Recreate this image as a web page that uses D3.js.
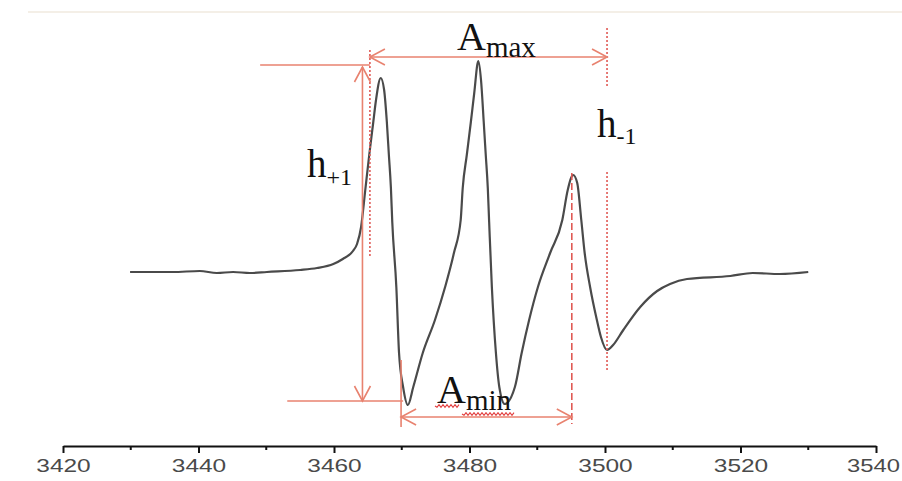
<!DOCTYPE html>
<html lang="en">

<head>
    <meta charset="UTF-8">
    <title>EPR spectrum</title>
    <style>
        body { margin: 0; background: #fff; }
        .tick text { font-family: "Liberation Sans", Arial, sans-serif; }
    </style>
</head>

<body>
    <svg id="chart"></svg>
    <script src="https://cdn.jsdelivr.net/npm/d3@7/dist/d3.min.js"></script>
    <script>
        // magnetic field (G)
        const field = [3429.9, 3436.2, 3440.2, 3442.7, 3445.1, 3447.6, 3450.1, 3455.0, 3457.5, 3459.9,
            3461.3, 3462.8, 3463.4, 3464.0, 3464.6, 3465.2, 3465.8, 3466.2, 3466.9, 3467.4,
            3467.8, 3468.1, 3468.4, 3468.6, 3469.2, 3469.6, 3470.2, 3470.9, 3471.7, 3473.1,
            3474.9, 3476.4, 3477.7, 3478.7, 3479.0, 3479.6, 3480.2, 3480.7, 3481.3, 3481.7,
            3482.1, 3482.4, 3482.7, 3482.9, 3483.3, 3483.9, 3484.4, 3485.2, 3486.7, 3487.7,
            3488.8, 3490.1, 3491.9, 3493.7, 3494.5, 3495.3, 3495.9, 3496.5, 3497.0, 3497.8,
            3498.8, 3499.4, 3500.3, 3501.2, 3502.7, 3505.2, 3507.7, 3509.6, 3512.1, 3518.5,
            3521.8, 3525.8, 3530.0];
        // signal (a.u.)
        const signal = [-1, -1, 0, -2, -1, -2, -1, 1, 3, 7,
            12, 20, 27, 44, 80, 116, 149, 171, 193, 181,
            149, 116, 83, 49, -16, -82, -116, -134, -116, -82,
            -49, -16, 18, 51, 83, 116, 149, 178, 210, 191,
            149, 116, 83, 49, -16, -82, -116, -133, -116, -82,
            -49, -16, 18, 51, 81, 96, 88, 51, 18, -16,
            -49, -66, -79, -74, -59, -36, -20, -13, -8, -5,
            -2, -3, -1];
        const tickLabels = [3420, 3440, 3460, 3480, 3500, 3520, 3540];
        const minorTicks = [3430, 3450, 3470, 3490, 3510, 3530];

        const width = 902, height = 481;
        const red = "#e8826f", redDot = "#e05a55";

        const svg = d3.select("#chart").attr("width", width).attr("height", height);

        const x = d3.scaleLinear().domain([3420, 3540]).range([63, 876]);
        const y = d3.scaleLinear().domain([-150, 230]).range([421, 41]);

        // faint frame line at the top
        svg.append("line")
            .attr("x1", 28).attr("x2", width).attr("y1", 12).attr("y2", 12)
            .attr("stroke", "#f4efe7").attr("stroke-width", 2);

        // arrow heads
        const defs = svg.append("defs");
        defs.append("marker")
            .attr("id", "head")
            .attr("viewBox", "-18 -10 20 20")
            .attr("markerUnits", "userSpaceOnUse")
            .attr("markerWidth", 20).attr("markerHeight", 20)
            .attr("refX", 0).attr("refY", 0)
            .attr("orient", "auto-start-reverse")
            .append("path")
            .attr("d", "M-15,-8 L0,0 L-15,8")
            .attr("fill", "none").attr("stroke", red).attr("stroke-width", 1.6);

        // axis
        const axisY = 446;
        const axis = svg.append("g").attr("transform", `translate(0,${axisY})`);
        axis.call(d3.axisBottom(x).tickValues(tickLabels).tickSize(7).tickSizeOuter(0).tickPadding(7).tickFormat(d3.format("d")));
        axis.select(".domain").attr("stroke", "#111").attr("stroke-width", 2);
        axis.selectAll(".tick line").attr("stroke", "#111").attr("stroke-width", 2);
        axis.selectAll(".tick text")
            .attr("fill", "#4a4a4a")
            .style("font-size", "17.5px")
            .attr("transform", (d, i) => i === tickLabels.length - 1 ? "translate(-3,0) scale(1.36,1)" : "scale(1.4,1)");
        axis.selectAll(".minor")
            .data(minorTicks)
            .enter().append("line")
            .attr("x1", d => x(d)).attr("x2", d => x(d))
            .attr("y1", 0).attr("y2", 4)
            .attr("stroke", "#111").attr("stroke-width", 2);

        // spectrum
        const pts = field.map((f, i) => [f, signal[i]]);
        const line = d3.line()
            .x(d => x(d[0]))
            .y(d => y(d[1]))
            .curve(d3.curveMonotoneX);
        svg.append("path")
            .datum(pts)
            .attr("d", line)
            .attr("fill", "none")
            .attr("stroke", "#4a4a4a")
            .attr("stroke-width", 2.2)
            .attr("stroke-linejoin", "round");

        // annotation helpers
        const ann = svg.append("g");
        function seg(f1, v1, f2, v2, color, dash, arrows) {
            const l = ann.append("line")
                .attr("x1", x(f1)).attr("y1", y(v1))
                .attr("x2", x(f2)).attr("y2", y(v2))
                .attr("stroke", color).attr("stroke-width", 1.6);
            if (dash) l.attr("stroke-dasharray", dash);
            if (arrows) l.attr("marker-start", "url(#head)").attr("marker-end", "url(#head)");
            return l;
        }

        // dotted guide lines
        seg(3465.3, 221, 3465.3, 13, redDot, "2,2");
        seg(3500.3, 243, 3500.3, 184, redDot, "2,2");
        seg(3500.3, 99, 3500.3, -99, redDot, "2,2");
        seg(3495.1, 98, 3495.1, -153, redDot, "7,3");

        // Amax
        seg(3465.3, 214, 3500.3, 214, red, null, true);
        // h+1
        seg(3449.1, 206, 3465.3, 206, red);
        seg(3464.2, 204, 3464.2, -130, red, null, true);
        seg(3453.1, -130, 3470.2, -130, red);
        // Amin
        seg(3469.9, -89, 3469.9, -156, red);
        seg(3469.9, -146, 3495.1, -146, red, null, true);

        // labels
        function label(px, py, main, sub, size, subSize, subDy) {
            const t = svg.append("text")
                .attr("x", px).attr("y", py)
                .attr("font-family", "'Liberation Serif', 'Times New Roman', serif")
                .attr("fill", "#111");
            t.append("tspan").attr("font-size", size).text(main);
            t.append("tspan").attr("font-size", subSize).attr("dy", subDy).text(sub);
            return t;
        }
        label(457, 50, "A", "max", 40, 29, 7);
        label(597, 137, "h", "-1", 39, 24, 7);
        label(307, 177, "h", "+1", 39, 24, 8);
        label(437, 403, "A", "min", 40, 29, 7);

        // spell-check squiggle under Amin
        function squiggle(x0, x1, yy) {
            const p = d3.path();
            p.moveTo(x0, yy);
            let s = 1;
            for (let xx = x0 + 2; xx <= x1; xx += 2) {
                p.lineTo(xx, yy + s * 1.3);
                s = -s;
            }
            svg.append("path").attr("d", p.toString())
                .attr("fill", "none").attr("stroke", "#e23b3b").attr("stroke-width", 1.1);
        }
        squiggle(435, 459, 406);
        squiggle(462, 515, 414);
    </script>
</body>

</html>
